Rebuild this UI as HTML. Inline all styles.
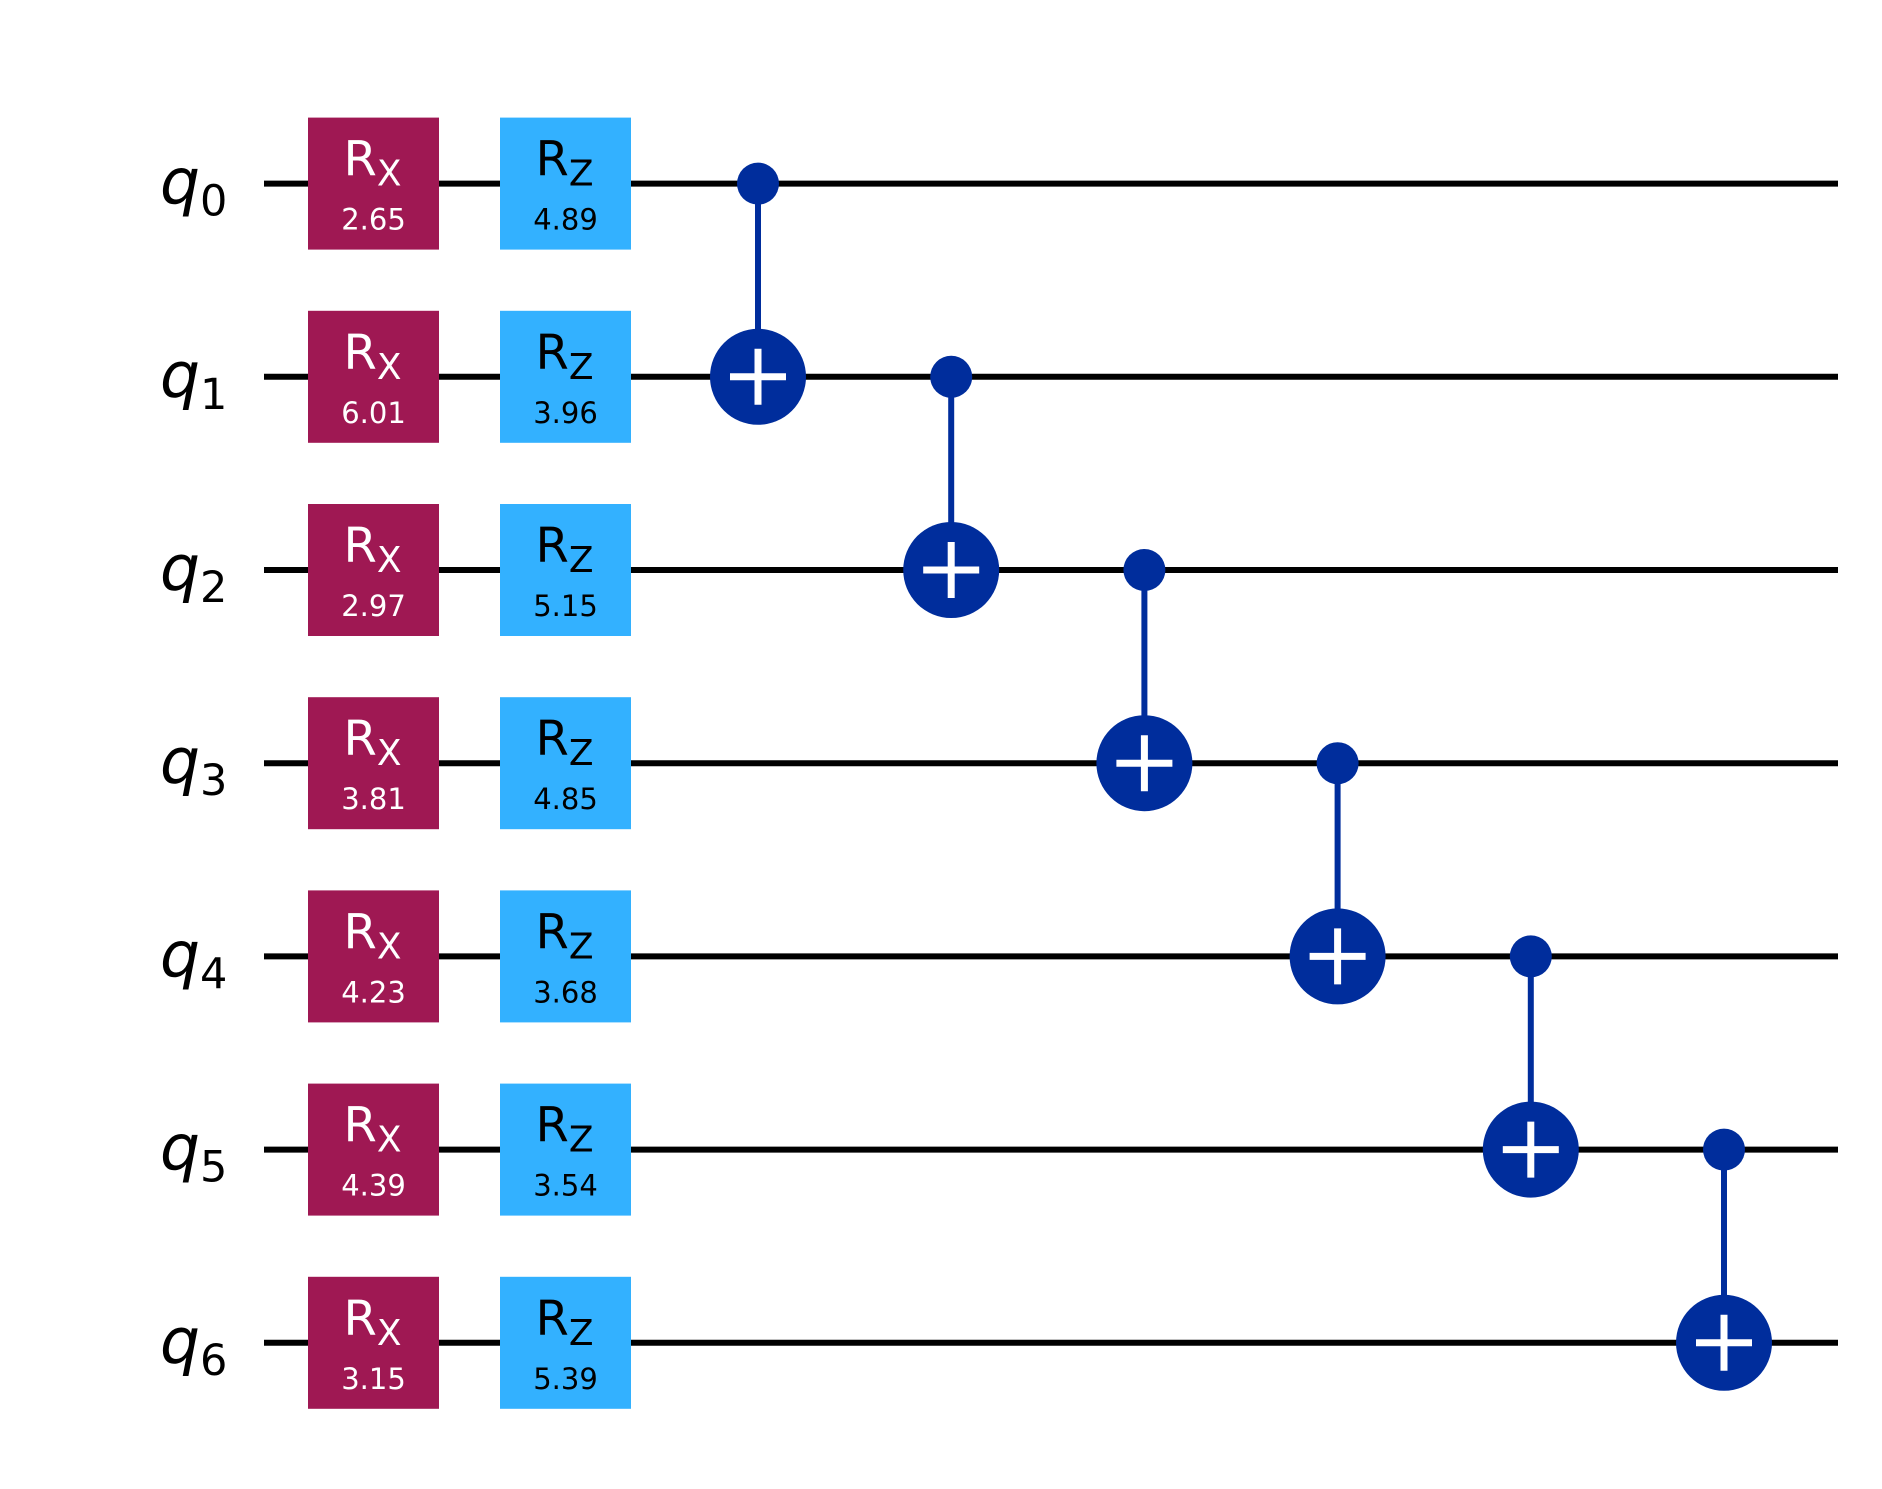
<!DOCTYPE html>
<html><head><meta charset="utf-8"><style>
html,body{margin:0;padding:0;background:#fff}
svg{display:block}
text{font-family:"DejaVu Sans","Liberation Sans",sans-serif}
</style></head><body>
<svg id="c" width="1882" height="1489" viewBox="0 0 1882 1489" xmlns="http://www.w3.org/2000/svg"></svg>
<script>
const qubits = [0,1,2,3,4,5,6];
const rxValues = ["2.65","6.01","2.97","3.81","4.23","4.39","3.15"];
const rzValues = ["4.89","3.96","5.15","4.85","3.68","3.54","5.39"];
const cnotControls = [0,1,2,3,4,5];
const cnotTargets = [1,2,3,4,5,6];

const NS="http://www.w3.org/2000/svg";
const svg=document.getElementById('c');
function yOf(q){return 183.6+q*193.2;}
function colX(i){return 758+i*193.2;}
function mk(tag,attrs,parent){const e=document.createElementNS(NS,tag);for(const k in attrs)e.setAttribute(k,attrs[k]);(parent||svg).appendChild(e);return e;}

qubits.forEach(q=>{
  const y=yOf(q);
  const w=mk('line',{x1:264,x2:1838,y1:y,y2:y,stroke:'#000','stroke-width':6});
  
  
  const t=mk('text',{x:160,y:y+20,'font-size':63,'font-style':'italic',fill:'#000'});
  
  
  t.textContent='q';
  const s=mk('tspan',{dy:12,'font-size':43,'font-style':'normal'},t);
  s.textContent=String(q);
});

function gate(q,x,color,txtColor,sub,val,name){
  const y=yOf(q);
  const g=mk('g',{});
  
  
  mk('rect',{x:x,y:y-66,width:131,height:132,fill:color},g);
  const t=mk('text',{x:x+65.5-30,y:y-8,'font-size':48,fill:txtColor},g);
  t.textContent='R';
  const s=mk('tspan',{dy:10,'font-size':36},t);s.textContent=sub;
  const v=mk('text',{x:x+65.5,y:y+46,'font-size':29,fill:txtColor,'text-anchor':'middle'},g);
  v.textContent=val;
}
qubits.forEach(q=>{
  gate(q,308,'#9f1853','#fff','X',rxValues[q],'rx-gate');
  gate(q,500,'#33b1ff','#000','Z',rzValues[q],'rz-gate');
});

cnotControls.forEach((c,i)=>{
  const t=cnotTargets[i];const x=colX(i);
  const g=mk('g',{});
  
  
  mk('line',{x1:x,x2:x,y1:yOf(c),y2:yOf(t),stroke:'#002d9c','stroke-width':6},g);
  mk('circle',{cx:x,cy:yOf(c),r:21,fill:'#002d9c'},g);
  mk('circle',{cx:x,cy:yOf(t),r:48,fill:'#002d9c'},g);
  mk('line',{x1:x-28,x2:x+28,y1:yOf(t),y2:yOf(t),stroke:'#fff','stroke-width':7},g);
  mk('line',{x1:x,x2:x,y1:yOf(t)-28,y2:yOf(t)+28,stroke:'#fff','stroke-width':7},g);
});
</script>
</body></html>
